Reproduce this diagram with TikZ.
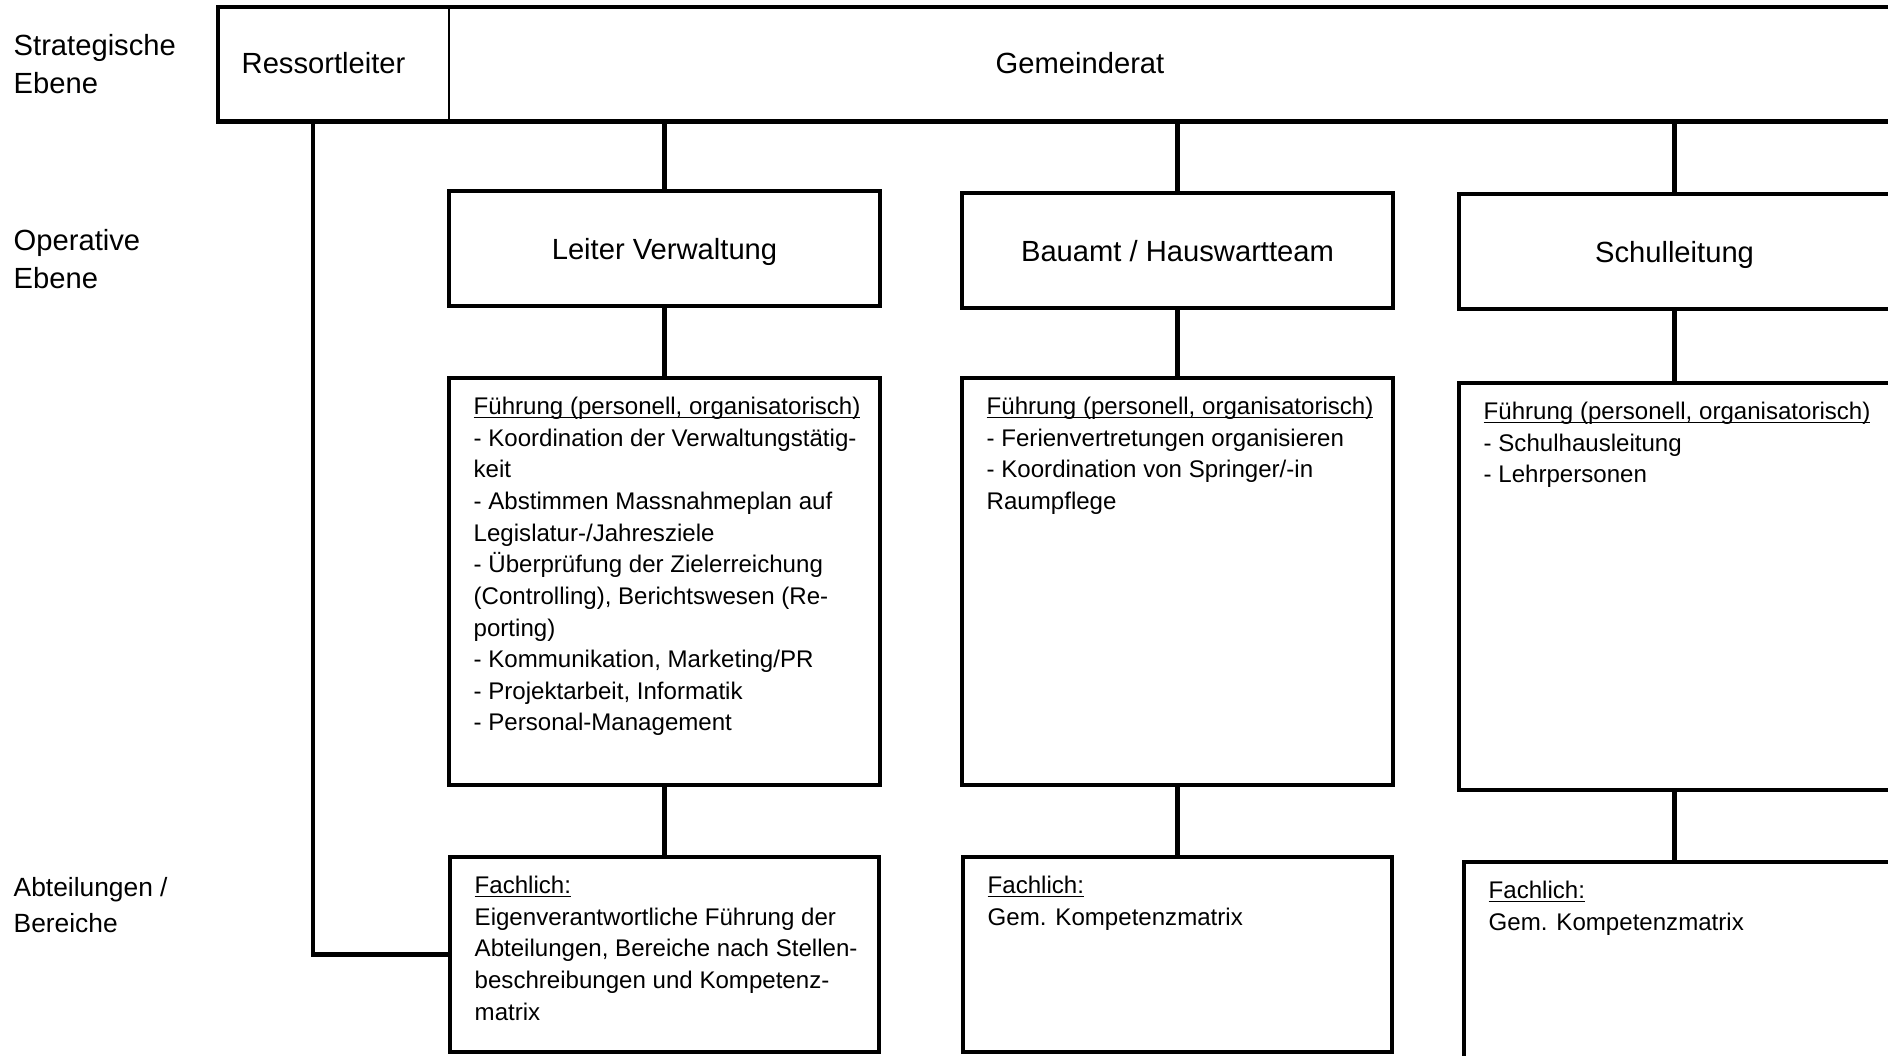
\documentclass[tikz,border=0pt]{standalone}
\usepackage{fontspec}
\setmainfont{Liberation Sans}
\usetikzlibrary{positioning}
\newcommand{\labfont}{\fontsize{8.3pt}{10.9pt}\selectfont}
\newcommand{\boxfont}{\fontsize{6.85pt}{9pt}\selectfont}
\newcommand{\unterstrich}[1]{\setbox0\hbox{#1}\rlap{\rule[-1.0pt]{\wd0}{0.45pt}}\box0}

\begin{document}
\begin{tikzpicture}[
    orgbox/.style={draw, line width=1.3pt, outer sep=0pt, minimum width=4.31cm, font=\labfont},
    headbox/.style={orgbox, minimum height=1.15cm, text depth=0pt},
    infobox/.style={orgbox, minimum height=4.07cm},
    fachbox/.style={orgbox, minimum width=4.29cm, minimum height=1.95cm},
    boxtext/.style={inner sep=0pt, align=left, anchor=north west, font=\boxfont},
    level/.style={inner sep=0pt, align=left, anchor=north west, font=\labfont},
    conn/.style={line width=1.3pt},
    node distance=0.72cm
]
\fill[white] (0,0) rectangle (18.88,-10.55);
\useasboundingbox (0,0) rectangle (18.88,-10.55);

% levels
\node[level] (strategisch) at (0.13,-0.337) {Strategische\\Ebene};
\node[level] (operativ) at (0.13,-2.287) {Operative\\Ebene};
\node[level, font={\fontsize{7.5pt}{10.2pt}\selectfont}] (abteilung) at (0.13,-8.77) {Abteilungen /\\Bereiche};

% strategic level
\node[orgbox, anchor=north west, minimum width=17.2cm, minimum height=1.145cm] (strat) at (2.18,-0.07) {};
\coordinate (teil) at (4.49,-0.07);
\draw[line width=0.6pt] (teil) -- (teil |- strat.south);
\node[font=\labfont, inner sep=0pt, anchor=base west] (ressort) at (2.41,-0.73) {Ressortleiter};
\node[font=\labfont, inner sep=0pt, anchor=base] (rat) at (10.80,-0.73) {Gemeinderat};

% columns
\node[headbox, anchor=north west] (leiter) at (4.49,-1.91) {Leiter Verwaltung};
\node[infobox, below=of leiter] (fuehr1) {};
\node[fachbox, below=of fuehr1] (fach1) {};

\node[headbox, anchor=north west] (bauamt) at (9.62,-1.93) {Bauamt / Hauswartteam};
\node[infobox, below=0.70cm of bauamt] (fuehr2) {};
\node[fachbox, below=of fuehr2] (fach2) {};

\node[headbox, anchor=north west] (schule) at (14.59,-1.94) {Schulleitung};
\node[infobox, below=0.74cm of schule] (fuehr3) {};
\node[fachbox, anchor=north west, minimum height=2.4cm] (fach3) at (14.64,-8.62) {};

% texts
\node[boxtext] (fuehr1text) at ([shift={(0.24,-0.185)}]fuehr1.north west) {\unterstrich{Führung (personell, organisatorisch)}\\- Koordination der Verwaltungstätig-\\keit\\- Abstimmen Massnahmeplan auf\\Legislatur-/Jahresziele\\- Überprüfung der Zielerreichung\\(Controlling), Berichtswesen (Re-\\porting)\\- Kommunikation, Marketing/PR\\- Projektarbeit, Informatik\\- Personal-Management};
\node[boxtext] (fuehr2text) at ([shift={(0.24,-0.185)}]fuehr2.north west) {\unterstrich{Führung (personell, organisatorisch)}\\- Ferienvertretungen organisieren\\- Koordination von Springer/-in\\Raumpflege};
\node[boxtext] (fuehr3text) at ([shift={(0.24,-0.185)}]fuehr3.north west) {\unterstrich{Führung (personell, organisatorisch)}\\- Schulhausleitung\\- Lehrpersonen};
\node[boxtext] (fach1text) at ([shift={(0.24,-0.185)}]fach1.north west) {\unterstrich{Fachlich:}\\Eigenverantwortliche Führung der\\Abteilungen, Bereiche nach Stellen-\\beschreibungen und Kompetenz-\\matrix};
\node[boxtext] (fach2text) at ([shift={(0.24,-0.185)}]fach2.north west) {\unterstrich{Fachlich:}\\Gem. Kompetenzmatrix};
\node[boxtext] (fach3text) at ([shift={(0.24,-0.185)}]fach3.north west) {\unterstrich{Fachlich:}\\Gem. Kompetenzmatrix};

% connectors
\draw[conn] (leiter.north) -- (leiter.north |- strat.south);
\draw[conn] (bauamt.north) -- (bauamt.north |- strat.south);
\draw[conn] (schule.north) -- (schule.north |- strat.south);
\draw[conn] (leiter) -- (fuehr1);
\draw[conn] (fuehr1) -- (fach1);
\draw[conn] (bauamt) -- (fuehr2);
\draw[conn] (fuehr2) -- (fach2);
\draw[conn] (schule) -- (fuehr3);
\draw[conn] (fuehr3.south) -- (fuehr3.south |- fach3.north);
\coordinate (rl) at (3.13,-1.215);
\draw[line width=1.2pt] (rl) |- (fach1.west);
\end{tikzpicture}
\end{document}
